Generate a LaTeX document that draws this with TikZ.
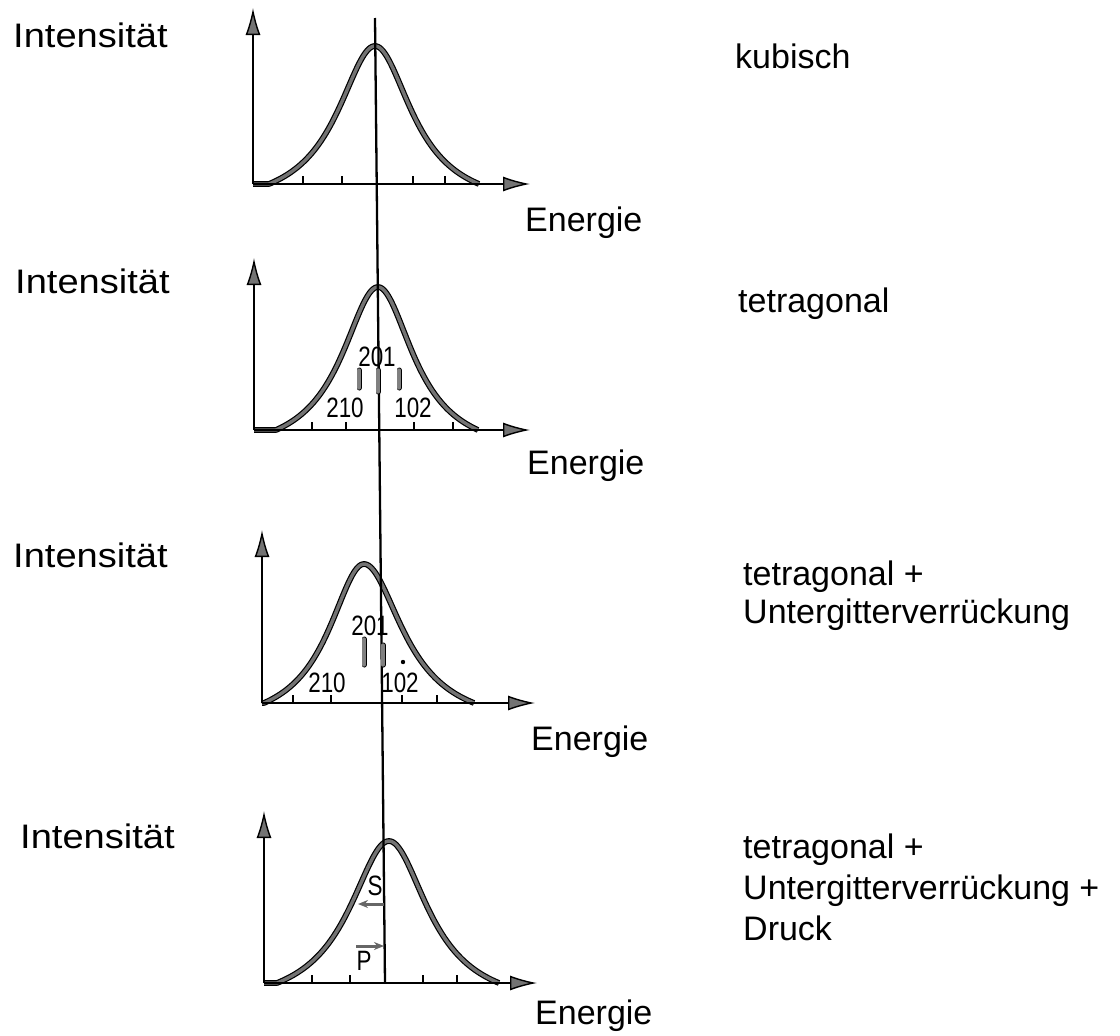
\documentclass[tikz,border=0pt]{standalone}
\usepackage{fontspec}
\setmainfont{Liberation Sans}
\usetikzlibrary{arrows.meta}
\tikzset{
  axis/.style={line width=2pt,-{Latex[length=27pt,width=15pt,fill=black!55,line width=1.4pt]}},
  curve/.style={draw=black,line width=1.2pt,double=black!55,double distance=3.4pt,line join=round},
  tick/.style={line width=2pt},
  vline/.style={line width=2.3pt},
  bar/.style={draw=black,line width=0.9pt,double=black!50,double distance=3.2pt,line cap=round},
  sarrow/.style={line width=3pt,draw=black!60,-{Stealth[length=10pt,width=8pt]}},
  lbl/.style={inner sep=0pt,anchor=base west,font=\fontsize{34}{40}\selectfont},
  ilbl/.style={lbl,xscale=1.12},
  num/.style={inner sep=0pt,font=\fontsize{28}{30}\selectfont,xscale=0.8},
}
% #1 peak x, #2 base y, #3 height, #4 left reach, #5 right reach, #6 origin x
\newcommand\lzcurve[6]{%
  \draw[curve] (#6,#2) -- ({#1-#4},#2)
    -- plot[domain=-#4:0,samples=70] ({#1+\x},{#2-#3*(1/(1+5.285*(\x/#4)*(\x/#4))-0.159)/0.841})
    -- plot[domain=0:#5,samples=70] ({#1+\x},{#2-#3*(1/(1+5.285*(\x/#5)*(\x/#5))-0.159)/0.841});
}
\begin{document}
\begin{tikzpicture}[x=1pt,y=-1pt]
\useasboundingbox[fill=white] (0,0) rectangle (1120,1036);

% ---------- panel 1 : kubisch
\coordinate (o1) at (253,184); \coordinate (y1) at (253,8); \coordinate (x1) at (530,184);
\lzcurve{375}{184}{138}{106}{104}{253}
\draw[axis] (o1) -- (y1);
\draw[axis] (o1) -- (x1);
\foreach \t in {303,342,413,445} \draw[tick] (\t,184) -- (\t,176);
\node[ilbl] (i1) at (13,47) {Intensität};
\node[lbl] (e1) at (525,231) {Energie};
\node[lbl] (k1) at (735,68) {kubisch};

% ---------- panel 2 : tetragonal
\coordinate (o2) at (254,430); \coordinate (y2) at (254,258); \coordinate (x2) at (530,430);
\lzcurve{378}{430}{143}{102}{100}{254}
\draw[axis] (o2) -- (y2);
\draw[axis] (o2) -- (x2);
\foreach \t in {312,346,414,453} \draw[tick] (\t,430) -- (\t,422);
\draw[bar] (359,370) -- (359,388);
\draw[bar] (399,370) -- (399,388);
\node[num] (n201b) at (377,357) {201};
\node[num] (n210b) at (345,408) {210};
\node[num] (n102b) at (413,408) {102};
\node[ilbl] (i2) at (15,293) {Intensität};
\node[lbl] (e2) at (527,474) {Energie};
\node[lbl] (k2) at (738,312) {tetragonal};

% ---------- panel 3 : tetragonal + Untergitterverrueckung
\coordinate (o3) at (262,703); \coordinate (y3) at (262,530); \coordinate (x3) at (535,703);
\lzcurve{364}{703}{139}{100}{110}{262}
\draw[axis] (o3) -- (y3);
\draw[axis] (o3) -- (x3);
\foreach \t in {293,331,402,437} \draw[tick] (\t,703) -- (\t,695);
\draw[bar] (364,639) -- (364,665);
\fill (403,662) circle (2.2pt);
\node[num] (n201c) at (370,626) {201};
\node[num] (n210c) at (327,683) {210};
\node[num] (n102c) at (400,683) {102};
\node[ilbl] (i3) at (13,567) {Intensität};
\node[lbl] (e3) at (531,750) {Energie};
\node[lbl] (k3a) at (743,585) {tetragonal +};
\node[lbl] (k3b) at (743,623) {Untergitterverrückung};

% ---------- panel 4 : + Druck
\coordinate (o4) at (264,983); \coordinate (y4) at (264,811); \coordinate (x4) at (537,983);
\lzcurve{389}{983}{142}{112}{110}{264}
\draw[axis] (o4) -- (y4);
\draw[axis] (o4) -- (x4);
\foreach \t in {312,350,423,457} \draw[tick] (\t,983) -- (\t,975);
\node[ilbl] (i4) at (20,848) {Intensität};
\node[lbl] (e4) at (535,1024) {Energie};
\node[lbl] (k4a) at (743,858) {tetragonal +};
\node[lbl] (k4b) at (743,899) {Untergitterverrückung +};
\node[lbl] (k4c) at (743,940) {Druck};

% ---------- common vertical reference line
\coordinate (vt) at (375,18); \coordinate (vb) at (385,983);
\draw[vline] (vt) -- (vb);
\draw[bar] (378,370) -- (378,392);
\draw[bar] (383,645) -- (383,665);

% ---------- S and P shifts
\node[num] (S) at (375,886) {S};
\node[num] (P) at (364,961) {P};
\coordinate (s0) at (384,904); \coordinate (s1) at (358,904);
\coordinate (p0) at (356,946); \coordinate (p1) at (384,946);
\draw[sarrow] (s0) -- (s1);
\draw[sarrow] (p0) -- (p1);
\end{tikzpicture}
\end{document}
